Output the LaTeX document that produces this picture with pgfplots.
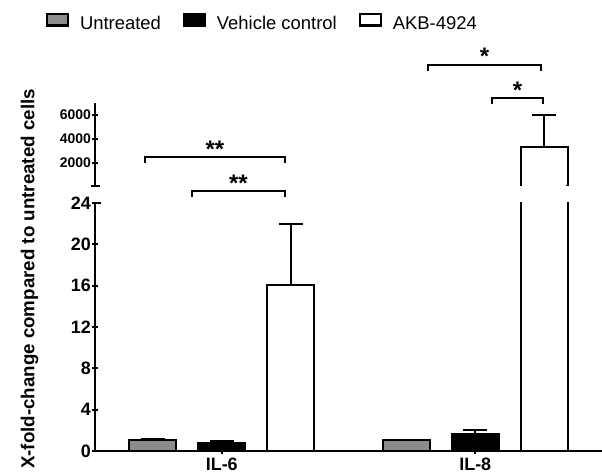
\documentclass[border=0pt]{standalone}
\usepackage{pgfplots}
\usepackage{pgfplotstable}
\pgfplotsset{compat=1.18}
\usepackage{fontspec}
\setmainfont{Liberation Sans}
\definecolor{untreated}{RGB}{140,140,140}

% x: 0 = IL-6, 1 = IL-8; err = upper error bar
\pgfplotstableread{
x y err
0 1.1 0.1
1 1.05 0.05
}\untreated
\pgfplotstableread{
x y err
0 0.75 0.25
1 1.65 0.35
}\vehicle
\pgfplotstableread{
x y err
0 16.1 5.9
1 3333 2667
}\akb

\begin{document}
\begin{tikzpicture}
\path[use as bounding box] (0,0) rectangle (602bp,475bp);

\pgfplotsset{
  brk/.style={
    scale only axis, width=507bp, anchor=south west,
    xmin=-0.5, xmax=1.5,
    every tick/.style={line width=2bp, black},
    tick align=outside, major tick length=6bp,
    ybar, bar width=0.185,
    /pgf/number format/assume math mode=true,
    /pgf/number format/1000 sep={},
    error bars/y dir=plus, error bars/y explicit,
    error bars/error bar style={line width=1.8bp, black},
    error bars/error mark options={rotate=90, line width=2bp, mark size=12bp, black},
  },
  nolinearrows/.style={
    axis line style={line width=2.2bp},
    every outer x axis line/.append style={-},
    every outer y axis line/.append style={-},
    every inner x axis line/.append style={-},
    every inner y axis line/.append style={-},
  },
  untr/.style={fill=untreated, draw=black, line width=2.2bp, bar shift=-0.272},
  vehi/.style={fill=black, draw=black, line width=2.2bp, bar shift=0},
  akbs/.style={fill=white, draw=black, line width=2.2bp, bar shift=0.272},
}

% lower part of the broken axis
\begin{axis}[brk, at={(95bp,24bp)}, height=248bp,
  ymin=0, ymax=24, ytick={0,4,...,24},
  axis x line=bottom, axis y line=left, nolinearrows,
  xtick={0,1}, xticklabels={IL-6,IL-8},
  restrict y to domain*=-10:40,
  yticklabel style={font=\bfseries\fontsize{18}{18}\selectfont, inner sep=1bp},
  xticklabel style={font=\bfseries\fontsize{18}{18}\selectfont},
  legend style={at={(axis description cs:-0.0966,1.7298)}, anchor=west,
    draw=none, fill=none, inner sep=0pt, outer sep=0pt,
    legend columns=-1, font=\fontsize{18.5}{18.5}\selectfont,
    nodes={inner sep=0pt},
    /tikz/every odd column/.append style={column sep=11bp},
    /tikz/every even column/.append style={column sep=22bp}},
  legend image code/.code={\draw[#1, line width=2.2bp] (1.1bp,-1.4bp) rectangle (21.9bp,10.4bp);},
]
\addplot[untr] table[x=x, y=y, y error expr={min(\thisrow{err},10)}] {\untreated};
\addplot[vehi] table[x=x, y=y, y error expr={min(\thisrow{err},10)}] {\vehicle};
\addplot[akbs] table[x=x, y=y, y error expr={min(\thisrow{err},10)}] {\akb};
\legend{Untreated, Vehicle control, AKB-4924}
\end{axis}

% upper part of the broken axis: only values above the break
\begin{axis}[brk, at={(95bp,289bp)}, height=83bp,
  ymin=100, ymax=7000, ytick={2000,4000,6000},
  axis y line=left, axis x line=none, nolinearrows, xtick=\empty,
  restrict y to domain=50:8000,
  yticklabel style={font=\bfseries\fontsize{14}{14}\selectfont, inner sep=1bp},
]
\addplot[akbs] table[x=x, y=y, y error=err] {\akb};
\end{axis}

\begin{scope}[x=1bp, y=1bp, line width=2bp]
% open the bar at the break
\fill[white] (522.4,287.5) rectangle (566,290.8);
% axis break ends
\draw (91,289) -- (100,289);
\draw (95,272) -- (101,272);
% significance brackets
\draw (145,312) -- (145,318) -- (285,318) -- (285,312);
\draw (192,278) -- (192,284) -- (285,284) -- (285,278);
\draw (428,404) -- (428,410) -- (541,410) -- (541,404);
\draw (492,371) -- (492,377) -- (543,377) -- (543,371);
\begin{scope}[every node/.style={font=\bfseries\fontsize{24}{24}\selectfont, anchor=base, inner sep=0pt}]
\node at (215,318) {**};
\node at (238.5,284) {**};
\node at (484.5,410) {*};
\node at (517.5,377) {*};
\end{scope}
\node[rotate=90, font=\bfseries\fontsize{18.8}{18.8}\selectfont] at (29.5,196)
  {X-fold-change compared to untreated cells};
\end{scope}
\end{tikzpicture}
\end{document}
